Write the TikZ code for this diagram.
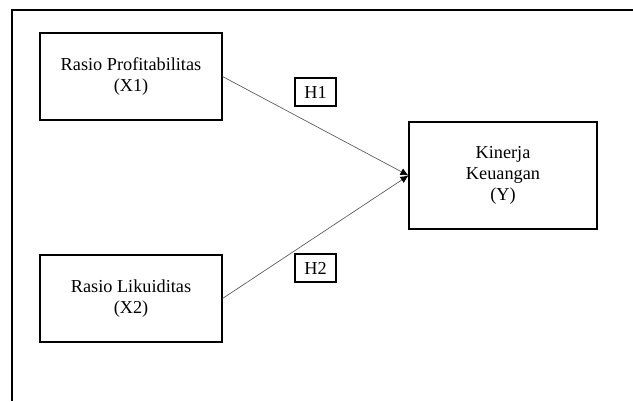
\documentclass[tikz,border=0pt]{standalone}
\usepackage{fontspec}
\setmainfont{Liberation Serif}
\usetikzlibrary{positioning,calc,arrows.meta}

\begin{document}
\begin{tikzpicture}[x=0.75pt, y=-0.75pt]
	\useasboundingbox (0,0) rectangle (633,401);
	\tikzstyle{every node}=[align=center, inner sep=1pt, font=\fontsize{13.7}{15.5}\selectfont]
	\tikzstyle{varbox}=[draw, line width=0.8pt]
	\tikzstyle{hyp}=[draw, line width=0.8pt, minimum width=41*0.75pt, minimum height=28*0.75pt]
	\tikzstyle{path}=[-{Latex[length=6pt, width=5.5pt, black]}, gray!70!black, line width=0.5pt]

	% outer frame
	\draw[line width=0.8pt] (12,401) -- (12,10) -- (633,10);

	\node[varbox, minimum width=182*0.75pt, minimum height=87*0.75pt] (prof) at (131,76.5) {Rasio Profitabilitas \\ (X1)};
	\node[varbox, minimum width=182*0.75pt, minimum height=87*0.75pt] (likuid) at (131,298.5) {Rasio Likuiditas \\ (X2)};
	\node[varbox, minimum width=188*0.75pt, minimum height=107*0.75pt] (kinerja) at (503,175.5) {Kinerja \\ Keuangan \\ (Y)};
	\node[hyp] (hone) at (315.5,92) {H1};
	\node[hyp] (htwo) at (315.5,268) {H2};

	\draw[path] (prof.east) to (kinerja.west);
	\draw[path] (likuid.east) to (kinerja.west);
\end{tikzpicture}
\end{document}
